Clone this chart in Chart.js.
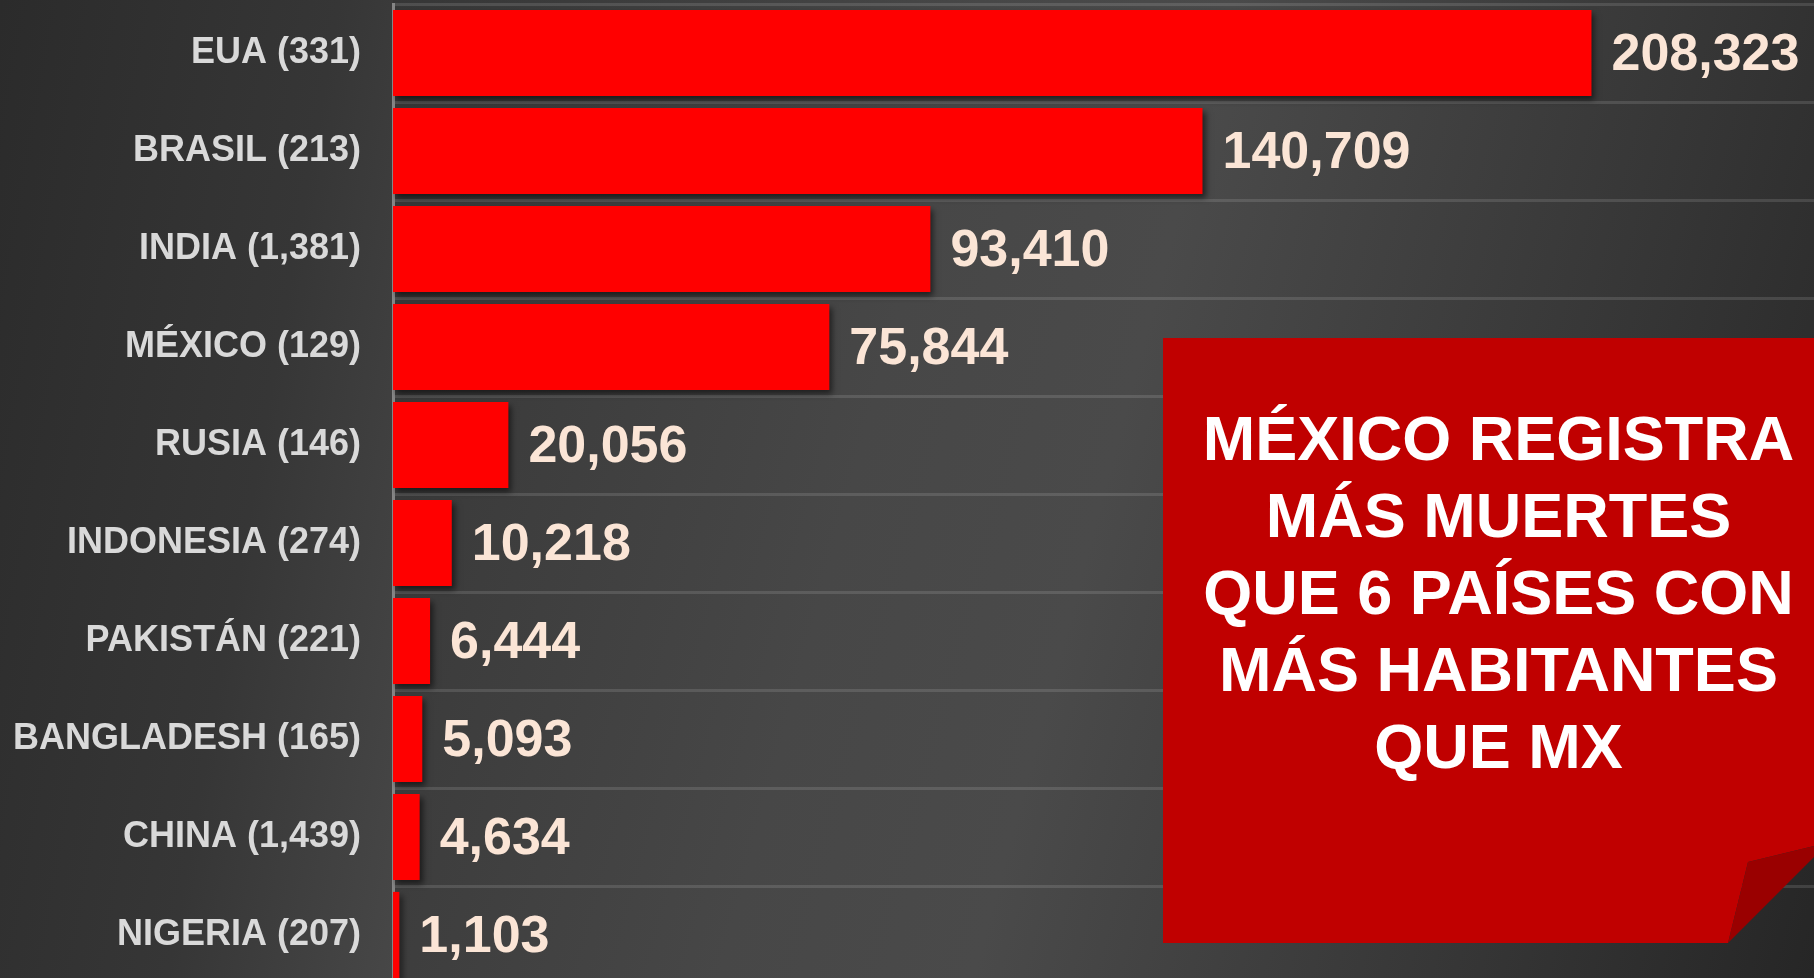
<!DOCTYPE html>
<html>
<head>
<meta charset="utf-8">
<script src="https://cdn.jsdelivr.net/npm/chart.js@4"></script>
<style>
  html, body { margin: 0; padding: 0; width: 1814px; height: 978px; overflow: hidden; background: #333; }
  #bgLeft { position: absolute; left: 0; top: 0; width: 393px; height: 978px;
    background: linear-gradient(100deg, #2b2b2b 0%, #363636 60%, #474747 100%); }
  #bgPlot { position: absolute; left: 393px; top: 0; width: 1421px; height: 978px;
    background: linear-gradient(105deg, #363636 0%, #474747 35%, #4a4a4a 50%, #353535 80%, #262626 100%); }
  #wrap { position: absolute; left: 0; top: 0; width: 1814px; height: 984px; }
  #callout { position: absolute; left: 1163px; top: 338px; width: 651px; height: 605px;
    background: #c00000;
    clip-path: polygon(0 0, 100% 0, 100% 508px, 585px 524px, 565px 605px, 0 605px); }
  #callout div { padding: 62px 0 0 20px; text-align: center; color: #fff;
    font: bold 63px "Liberation Sans", Arial, sans-serif; line-height: 77px; }
  #fold { position: absolute; left: 1163px; top: 338px; width: 651px; height: 605px;
    background: #9a0000;
    clip-path: polygon(585px 524px, 651px 508px, 651px 519px, 565px 605px); }
</style>
</head>
<body>
<div id="bgLeft"></div>
<div id="bgPlot"></div>
<div id="wrap"><canvas id="chart"></canvas></div>
<div id="callout"><div>MÉXICO REGISTRA<br>MÁS MUERTES<br>QUE 6 PAÍSES CON<br>MÁS HABITANTES<br>QUE MX</div></div>
<div id="fold"></div>
<script>
const countries = ['EUA', 'BRASIL', 'INDIA', 'MÉXICO', 'RUSIA', 'INDONESIA', 'PAKISTÁN', 'BANGLADESH', 'CHINA', 'NIGERIA'];
const population = ['331', '213', '1,381', '129', '146', '274', '221', '165', '1,439', '207']; // millones
const deaths = [208323, 140709, 93410, 75844, 20056, 10218, 6444, 5093, 4634, 1103];

const labels = countries.map((c, i) => `${c} (${population[i]})`);

// sombra de las barras
const barShadow = {
  id: 'barShadow',
  beforeDatasetsDraw(chart) {
    const ctx = chart.ctx;
    ctx.save();
    ctx.shadowColor = 'rgba(0,0,0,0.55)';
    ctx.shadowBlur = 6;
    ctx.shadowOffsetX = 3;
    ctx.shadowOffsetY = 4;
  },
  afterDatasetsDraw(chart) {
    chart.ctx.restore();
  }
};

// etiquetas de valor a la derecha de cada barra
const valueLabels = {
  id: 'valueLabels',
  afterDraw(chart) {
    const ctx = chart.ctx;
    const meta = chart.getDatasetMeta(0);
    ctx.save();
    ctx.font = 'bold 52px "Liberation Sans", Arial, sans-serif';
    ctx.fillStyle = '#fbe5d6';
    ctx.textAlign = 'left';
    ctx.textBaseline = 'middle';
    meta.data.forEach((bar, i) => {
      ctx.fillText(deaths[i].toLocaleString('en-US'), bar.x + 20, bar.y + 3);
    });
    ctx.restore();
  }
};

new Chart(document.getElementById('chart'), {
  type: 'bar',
  data: {
    labels: labels,
    datasets: [{
      data: deaths,
      backgroundColor: '#ff0000',
      borderWidth: 0,
      categoryPercentage: 1.0,
      barPercentage: 0.88
    }]
  },
  options: {
    indexAxis: 'y',
    responsive: true,
    maintainAspectRatio: false,
    animation: false,
    layout: { padding: { top: 4, right: 0, bottom: 0, left: 0 } },
    scales: {
      x: {
        display: false,
        min: 0,
        max: 247000
      },
      y: {
        afterFit: s => { s.width = 393; s.paddingTop = 0; s.paddingBottom = 0; },
        grid: {
          offset: true,
          drawTicks: false,
          color: 'rgba(255,255,255,0.12)',
          lineWidth: 3
        },
        border: { display: true, color: '#868686', width: 3 },
        ticks: {
          color: '#d9d9d9',
          padding: 32,
          font: { family: '"Liberation Sans", Arial, sans-serif', size: 36, weight: 'bold' }
        }
      }
    },
    plugins: {
      legend: { display: false },
      tooltip: { enabled: false }
    }
  },
  plugins: [barShadow, valueLabels]
});
</script>
</body>
</html>
